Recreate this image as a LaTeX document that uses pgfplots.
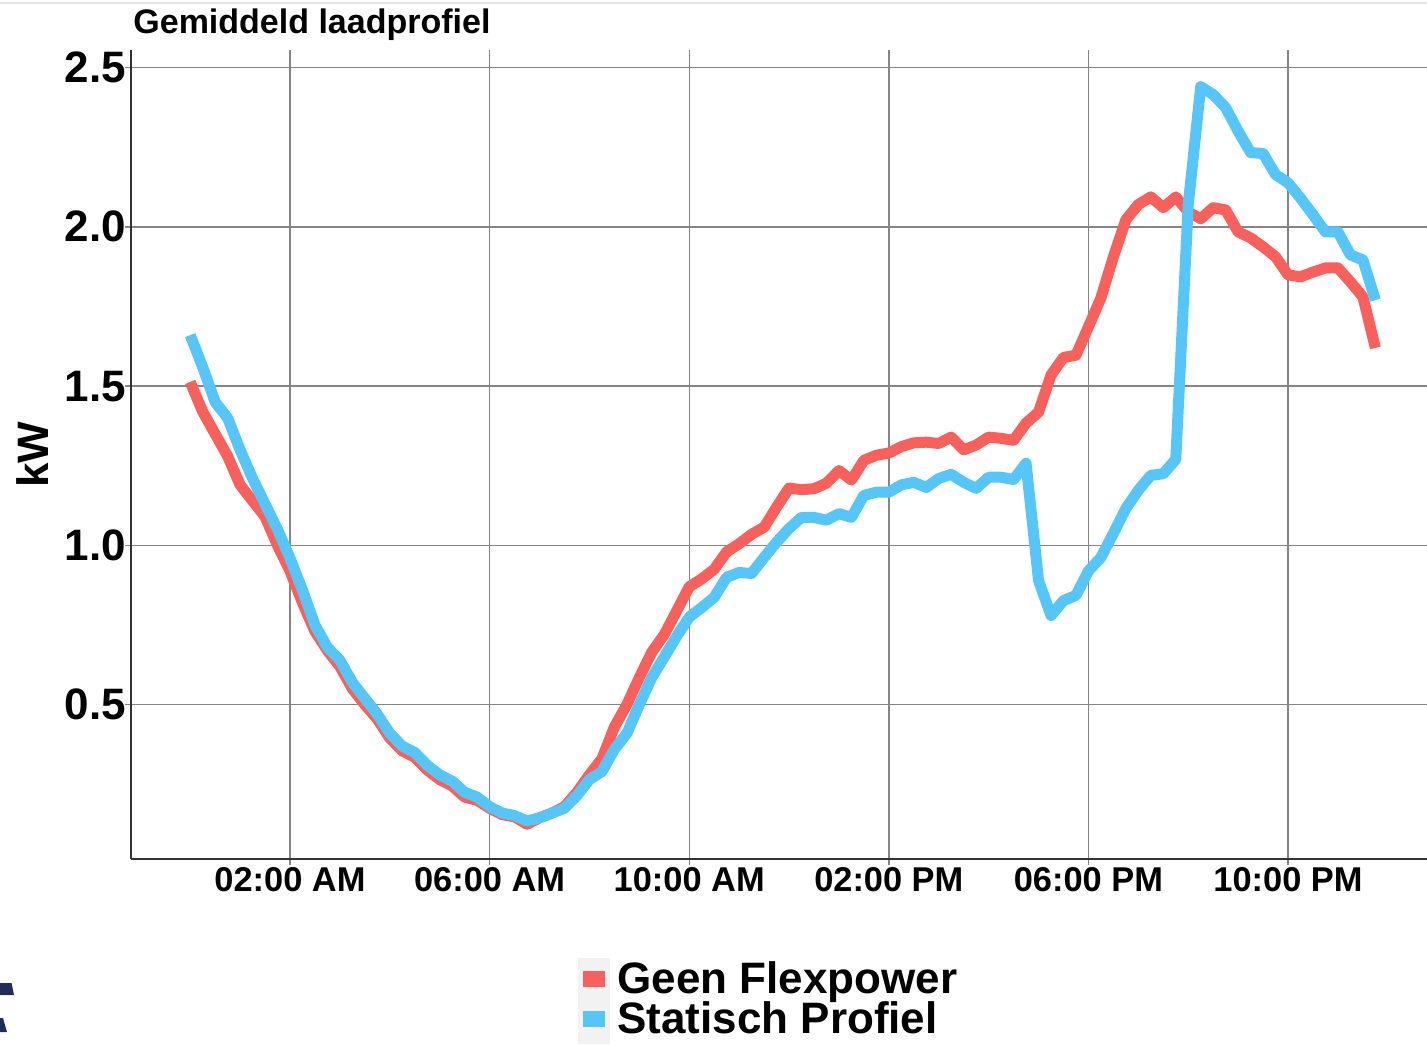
\documentclass[border=0pt]{standalone}
\usepackage{fontspec}
\setmainfont{Liberation Sans}
\usepackage{pgfplots}
\pgfplotsset{compat=1.18}
\usepackage{pgfplotstable}
\definecolor{geenRed}{HTML}{F8605C}
\definecolor{statBlue}{HTML}{56C5F8}
\definecolor{gridGray}{HTML}{858585}
\definecolor{logoNavy}{HTML}{1F2D5C}

% t = hour of day, r = Geen Flexpower, b = Statisch Profiel (kW)
\pgfplotstableread{
t     r      b
0.00  1.513  1.660
0.25  1.420  1.560
0.50  1.350  1.450
0.75  1.280  1.400
1.00  1.190  1.300
1.25  1.140  1.210
1.50  1.090  1.130
1.75  1.000  1.050
2.00  0.920  0.960
2.25  0.820  0.860
2.50  0.730  0.750
2.75  0.670  0.680
3.00  0.620  0.640
3.25  0.550  0.570
3.50  0.500  0.520
3.75  0.455  0.470
4.00  0.395  0.410
4.25  0.355  0.370
4.50  0.335  0.350
4.75  0.295  0.310
5.00  0.265  0.280
5.25  0.245  0.260
5.50  0.210  0.225
5.75  0.200  0.210
6.00  0.175  0.180
6.25  0.155  0.160
6.50  0.148  0.152
6.75  0.125  0.135
7.00  0.145  0.145
7.25  0.160  0.160
7.50  0.180  0.175
7.75  0.225  0.215
8.00  0.280  0.265
8.25  0.330  0.290
8.50  0.430  0.360
8.75  0.500  0.410
9.00  0.585  0.500
9.25  0.665  0.585
9.50  0.720  0.650
9.75  0.795  0.715
10.00 0.870  0.775
10.25 0.895  0.805
10.50 0.925  0.837
10.75 0.980  0.900
11.00 1.005  0.915
11.25 1.035  0.912
11.50 1.057  0.962
11.75 1.120  1.010
12.00 1.180  1.053
12.25 1.175  1.088
12.50 1.178  1.088
12.75 1.195  1.079
13.00 1.235  1.100
13.25 1.205  1.088
13.50 1.267  1.157
13.75 1.283  1.167
14.00 1.290  1.167
14.25 1.310  1.190
14.50 1.322  1.198
14.75 1.324  1.182
15.00 1.320  1.210
15.25 1.340  1.223
15.50 1.300  1.198
15.75 1.315  1.179
16.00 1.340  1.214
16.25 1.336  1.214
16.50 1.330  1.207
16.75 1.384  1.258
17.00 1.418  0.890
17.25 1.535  0.780
17.50 1.590  0.827
17.75 1.597  0.843
18.00 1.686  0.920
18.25 1.777  0.962
18.50 1.906  1.038
18.75 2.022  1.116
19.00 2.070  1.173
19.25 2.094  1.220
19.50 2.060  1.225
19.75 2.094  1.270
20.00 2.047  2.070
20.25 2.025  2.440
20.50 2.060  2.415
20.75 2.053  2.374
21.00 1.984  2.300
21.25 1.965  2.233
21.50 1.937  2.230
21.75 1.906  2.164
22.00 1.849  2.138
22.25 1.843  2.090
22.50 1.858  2.038
22.75 1.871  1.984
23.00 1.871  1.984
23.25 1.827  1.912
23.50 1.780  1.896
23.75 1.620  1.770
}\profiel

\begin{document}
\begin{tikzpicture}[x=1pt,y=1pt]
\path[use as bounding box] (-65.5,-92.5) rectangle (648,429.5);
\draw[gray!20, line width=0.6pt] (-65.5,428) -- (648,428);
\fill[gray!10] (223.5,-49.5) rectangle (239.5,-92.5);
\fill[logoNavy] (-65.5,-62) -- (-59.7,-62) -- (-58.5,-68) -- (-65.5,-68) -- cycle;
\fill[logoNavy] (-65.5,-79.5) -- (-64,-79.5) -- (-62,-86.5) -- (-65.5,-86.5) -- cycle;
\begin{axis}[
  at={(0,0)}, anchor=south west,
  scale only axis, width=648pt, height=404.5pt,
  xmin=-1.186, xmax=24.785, ymin=0.0157, ymax=2.555,
  axis lines*=left,
  axis line style={-, draw=black!80, line width=0.7pt},
  xmajorgrids, ymajorgrids,
  grid style={draw=gridGray, line width=0.7pt},
  tick style={draw=gridGray, line width=0.7pt},
  tick align=outside, major tick length=3pt,
  xtick={2,6,10,14,18,22},
  xticklabels={02:00 AM,06:00 AM,10:00 AM,02:00 PM,06:00 PM,10:00 PM},
  ytick={0.5,1,1.5,2,2.5},
  yticklabels={0.5,1.0,1.5,2.0,2.5},
  xticklabel style={font=\fontsize{17.2}{19}\selectfont\bfseries, yshift=2.5pt},
  yticklabel style={font=\fontsize{22}{24}\selectfont\bfseries, xshift=4pt},
  ylabel={kW},
  ylabel style={at={(axis description cs:0,0.5)}, yshift=49pt, anchor=center,
    font=\fontsize{22}{24}\selectfont\bfseries},
  title={Gemiddeld laadprofiel},
  title style={at={(0,1)}, anchor=base west, yshift=2pt, xshift=1pt, inner sep=0pt,
    font=\fontsize{17}{20}\selectfont\bfseries},
  legend style={at={(0.341,-0.119)}, anchor=north west, draw=none, fill=none,
    font=\fontsize{22}{24}\selectfont\bfseries, row sep=-1.5pt, inner sep=1pt},
  legend cell align=left,
  legend image code/.code={\draw[#1, line width=8pt, line cap=butt] (0pt,0pt) -- (11pt,0pt);},
]
\addplot[geenRed, line width=5.5pt, line join=round] table[x=t, y=r] {\profiel};
\addlegendentry{Geen Flexpower}
\addplot[statBlue, line width=5.5pt, line join=round] table[x=t, y=b] {\profiel};
\addlegendentry{Statisch Profiel}
\end{axis}
\end{tikzpicture}
\end{document}
